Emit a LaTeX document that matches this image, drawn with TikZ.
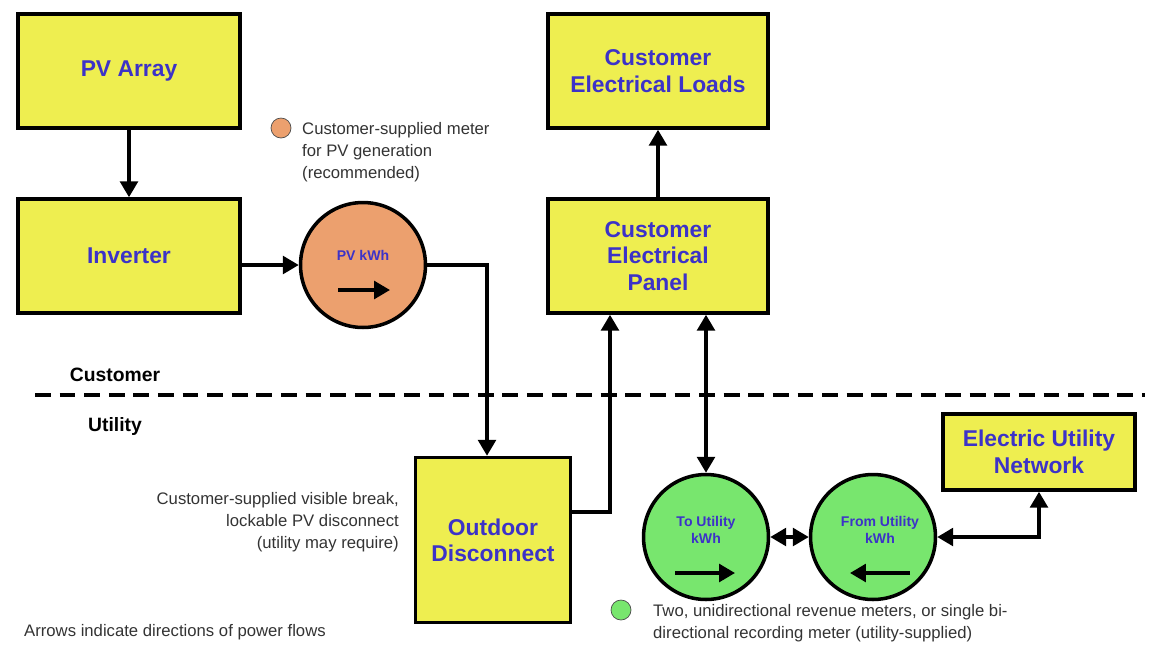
\documentclass[tikz,border=0pt]{standalone}
\usepackage{fontspec}
\setmainfont{Liberation Sans}
\usetikzlibrary{arrows.meta, positioning, calc}
\definecolor{boxfill}{RGB}{238,238,80}
\definecolor{txtblue}{RGB}{60,50,200}
\definecolor{meterorange}{RGB}{236,160,110}
\definecolor{metergreen}{RGB}{120,230,110}
\tikzset{
  blk/.style={draw=black, line width=2pt, fill=boxfill, font=\fontsize{13}{15}\selectfont\bfseries,
    text=txtblue, align=center, inner sep=0pt},
  meter/.style={circle, draw=black, line width=2pt, minimum size=2.5cm, inner sep=0pt},
  mtext/.style={font=\fontsize{8}{9.5}\selectfont\bfseries, text=txtblue, align=center},
  note/.style={font=\fontsize{9.5}{12.5}\selectfont, text=black!80},
  flow/.style={line width=2pt, -{Triangle[length=9pt,width=10pt]}},
  bflow/.style={line width=2pt, {Triangle[length=9pt,width=10pt]}-{Triangle[length=9pt,width=10pt]}},
}
\begin{document}
\begin{tikzpicture}[x=0.02cm, y=-0.02cm]
\useasboundingbox (0,0) rectangle (1163,664);
% boxes
\node[blk, minimum width=4.44cm, minimum height=2.28cm] (pv) at (129,71) {PV Array};
\node[blk, minimum width=4.44cm, minimum height=2.28cm] (inv) at (129,256) {Inverter};
\node[blk, minimum width=4.4cm, minimum height=2.28cm] (loads) at (658,71) {Customer\\Electrical Loads};
\node[blk, minimum width=4.4cm, minimum height=2.28cm] (panel) at (658,256) {Customer\\Electrical\\Panel};
\node[blk, minimum width=3.1cm, minimum height=3.3cm] (disc) at (493,540) {Outdoor\\Disconnect};
\node[blk, minimum width=3.84cm, minimum height=1.52cm] (net) at (1039,452) {Electric Utility\\Network};
% meters
\node[meter, fill=meterorange] (pvm) at (363,265) {};
\node[mtext] at (363,255) {PV kWh};
\draw[flow] (338,290) -- (390,290);
\node[meter, fill=metergreen] (tou) at (706,537) {};
\node[mtext] at (706,530) {To Utility\\kWh};
\draw[flow] (675,573) -- (735,573);
\node[meter, fill=metergreen] (fru) at (873,537) {};
\node[mtext] at (880,530) {From Utility\\kWh};
\draw[flow] (910,573) -- (850,573);
% notes
\node[circle, draw=black!70, fill=meterorange, minimum size=0.4cm, inner sep=0pt] (odot) at (281,128) {};
\node[note, anchor=north west, align=left] (onote) at (296,116) {Customer-supplied meter\\for PV generation\\(recommended)};
\node[note, anchor=east, align=right] (dnote) at (405,522) {Customer-supplied visible break,\\lockable PV disconnect\\(utility may require)};
\node[circle, draw=black!70, fill=metergreen, minimum size=0.4cm, inner sep=0pt] (gdot) at (621,610) {};
\node[note, anchor=north west, align=left] (gnote) at (647,598) {Two, unidirectional revenue meters, or single bi-\\directional recording meter (utility-supplied)};
\node[note, anchor=west] (arrnote) at (18,632) {Arrows indicate directions of power flows};
% boundary
\coordinate (dl) at (35,395);
\coordinate (dr) at (1145,395);
\draw[line width=2pt, dash pattern=on 9pt off 5pt] (dl) -- (dr);
\node[font=\fontsize{11}{13}\selectfont\bfseries] (cust) at (115,375) {Customer};
\node[font=\fontsize{11}{13}\selectfont\bfseries] (util) at (115,426) {Utility};
% connectors
\draw[flow] (pv) -- (inv);
\draw[flow] (inv.east |- pvm) -- (pvm);
\draw[flow] (pvm.east) -| (disc.north -| 487,0);
\draw[flow] (disc.east |- 0,512) -| (panel.south -| 610,0);
\draw[flow] (panel) -- (loads);
\draw[bflow] (panel.south -| tou) -- (tou);
\draw[bflow] (tou) -- (fru);
\draw[bflow] (fru) -| (net);
\end{tikzpicture}
\end{document}
